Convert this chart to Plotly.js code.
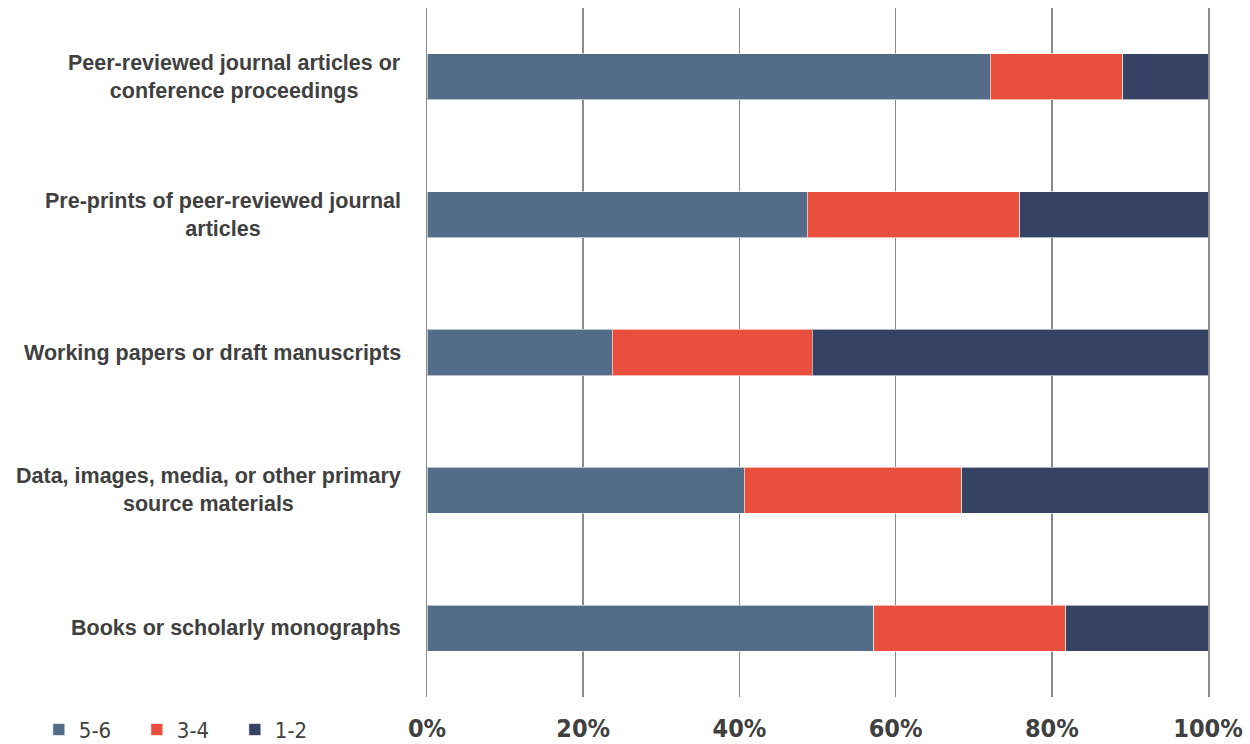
<!DOCTYPE html>
<html><head><meta charset="utf-8">
<script src="https://cdn.plot.ly/plotly-3.0.1.min.js"></script>
<style>body{margin:0;background:#fff}#chart{width:1250px;height:744px}</style>
</head><body><div id="chart"></div>
<script>
const categories = [
  "Peer-reviewed journal articles or<br>conference proceedings",
  "Pre-prints of peer-reviewed journal<br>articles",
  "Working papers or draft manuscripts",
  "Data, images, media, or other primary<br>source materials",
  "Books or scholarly monographs"
];
const seriesNames = ["5-6", "3-4", "1-2"];
const s56 = [72.1, 48.7, 23.7, 40.6, 57.2];
const s34 = [17.0, 27.2, 25.6, 27.9, 24.6];
const s12 = [10.9, 24.1, 50.7, 31.5, 18.2];
const tickVals = [0, 20, 40, 60, 80, 100];
const tickText = ["0%", "20%", "40%", "60%", "80%", "100%"];
const colors = ["#536D89", "#E94F3D", "#364263"];

const font = "'Liberation Sans Narrow', 'Arial Narrow', 'DejaVu Sans Condensed', sans-serif";
const data = [s56, s34, s12].map((vals, i) => ({
  type: 'bar', orientation: 'h', name: seriesNames[i],
  x: vals, y: categories.map((c, k) => k),
  marker: {color: colors[i], line: {color: 'rgba(255,255,255,0.6)', width: 1}},
  hoverinfo: 'x+name'
}));

const annotations = categories.map((c, k) => ({
  xref: 'paper', yref: 'y', x: -0.031, y: k, xanchor: 'right', yanchor: 'middle',
  text: '<b>' + c + '</b>', showarrow: false, align: 'center',
  font: {family: "'Liberation Sans', Arial, sans-serif", size: 21.5, color: '#404040'}
}));

const layout = {
  width: 1250, height: 744,
  margin: {l: 427, r: 42, t: 8, b: 47, autoexpand: false},
  barmode: 'stack', bargap: 0.665,
  paper_bgcolor: '#fff', plot_bgcolor: '#fff',
  showlegend: true,
  legend: {orientation: 'h', x: -0.497, xanchor: 'left', y: -0.017, yanchor: 'top',
    font: {family: font, size: 22, color: '#404040'}, traceorder: 'normal',
    entrywidth: 53, entrywidthmode: 'pixels', tracegroupgap: 0},
  xaxis: {range: [0, 100], tickvals: tickVals, ticktext: tickText, automargin: false,
    showgrid: true, gridcolor: '#8a8a8a', gridwidth: 1.5, zeroline: false,
    showline: false, ticks: '', ticklen: 0, ticklabelstandoff: 14,
    tickfont: {family: font, size: 25, color: '#404040', weight: 'bold'}},
  yaxis: {type: 'linear', range: [4.5, -0.5], showticklabels: false, showgrid: false, automargin: false,
    zeroline: false, showline: true, mirror: true, linecolor: '#8a8a8a', linewidth: 1.5, ticks: ''},
  annotations: annotations,
  hovermode: false
};
Plotly.newPlot('chart', data, layout, {displayModeBar: false, staticPlot: true});
</script></body></html>
